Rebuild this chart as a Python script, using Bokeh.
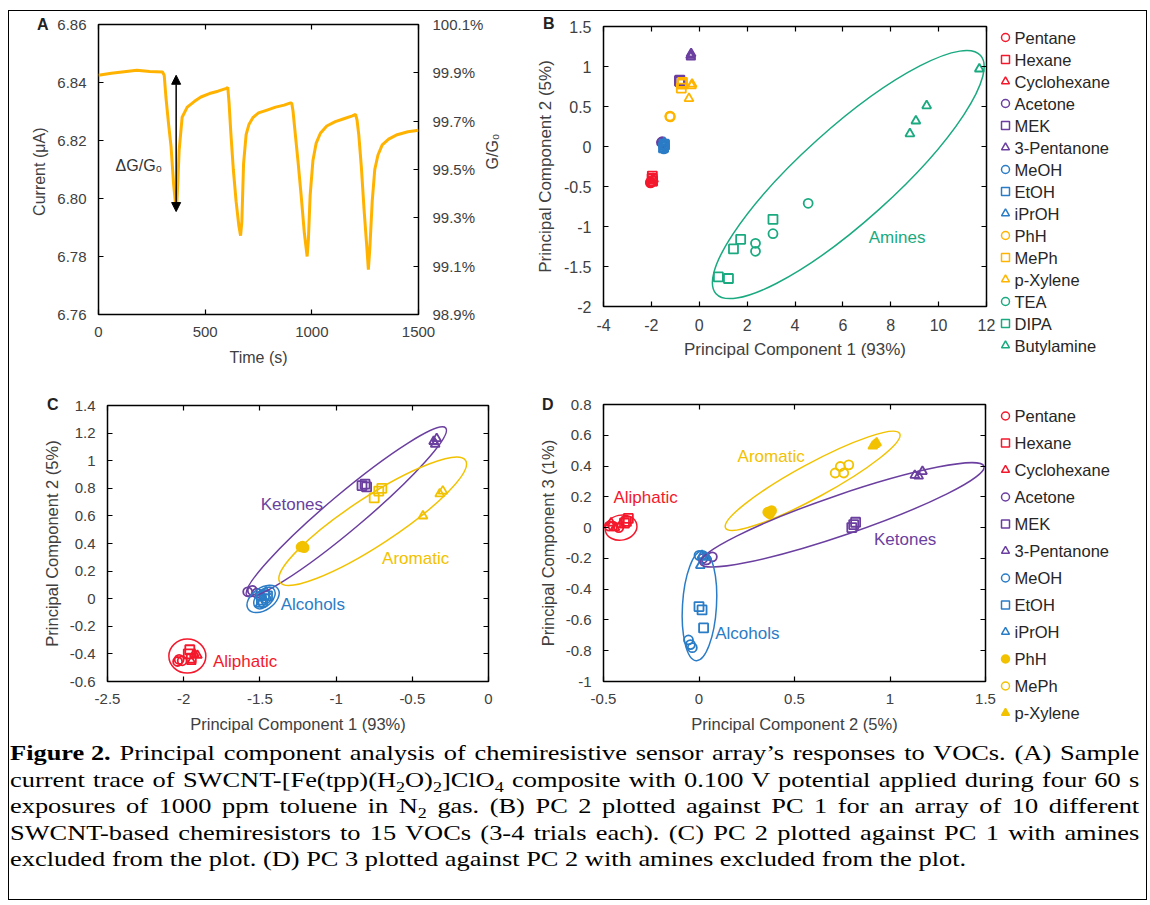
import math
from bokeh.plotting import figure
from bokeh.models import (Range1d, LinearAxis, FixedTicker, NumeralTickFormatter,
                          PrintfTickFormatter, CustomJSTickFormatter, Label, Arrow,
                          NormalHead, Div, FactorRange, ColumnDataSource)
from bokeh.layouts import row, column
from bokeh.embed import file_html
from bokeh.resources import INLINE

# ---------------- Panel A data ----------------
time_s = [0, 60, 120, 180, 240, 300, 308, 316, 328, 340, 352, 362, 366, 372, 378, 392, 416,
          450, 480, 520, 560, 600, 606, 612, 620, 632, 645, 658, 666, 672, 680, 692, 705, 725,
          750, 790, 830, 870, 900, 906, 912, 920, 935, 950, 965, 978, 984, 992, 1005, 1020,
          1040, 1070, 1110, 1150, 1190, 1205, 1212, 1220, 1232, 1245, 1258, 1265, 1272, 1283,
          1295, 1310, 1330, 1360, 1400, 1450, 1500]
current_uA = [6.8425, 6.8432, 6.8437, 6.8442, 6.8438, 6.8436, 6.8425, 6.8350, 6.8260, 6.8180,
              6.8050, 6.7975, 6.7965, 6.8060, 6.8166, 6.8280, 6.8315, 6.8335, 6.8350, 6.8362,
              6.8370, 6.8380, 6.8383, 6.8330, 6.8230, 6.8100, 6.7990, 6.7905, 6.7872, 6.7920,
              6.8120, 6.8220, 6.8255, 6.8280, 6.8295, 6.8305, 6.8315, 6.8322, 6.8330, 6.8328,
              6.8300, 6.8240, 6.8130, 6.8010, 6.7880, 6.7800, 6.7860, 6.8010, 6.8130, 6.8190,
              6.8225, 6.8250, 6.8265, 6.8275, 6.8285, 6.8290, 6.8270, 6.8220, 6.8110, 6.7960,
              6.7830, 6.7755, 6.7830, 6.7990, 6.8100, 6.8150, 6.8185, 6.8205, 6.8220, 6.8230,
              6.8235]
a_time_ticks = [0, 500, 1000, 1500]
a_current_ticks = [6.76, 6.78, 6.80, 6.82, 6.84, 6.86]
a_ratio_ticks = [98.9, 99.1, 99.3, 99.5, 99.7, 99.9, 100.1]

# ---------------- PCA data ----------------
compounds = ["Pentane", "Hexane", "Cyclohexane", "Acetone", "MEK", "3-Pentanone",
             "MeOH", "EtOH", "iPrOH", "PhH", "MePh", "p-Xylene", "TEA", "DIPA", "Butylamine"]
compound_group = ["Aliphatic"] * 3 + ["Ketones"] * 3 + ["Alcohols"] * 3 + ["Aromatic"] * 3 + ["Amines"] * 3

# PC1 / PC2 scores (panels B and C)
pc1 = [[-2.04, -2.01, -2.03], [-1.96, -1.95, -1.97], [-1.91, -1.95, -1.93],
       [-1.58, -1.55, -1.52], [-0.83, -0.81, -0.80], [-0.36, -0.34, -0.35],
       [-1.50, -1.48, -1.46], [-1.47, -1.49, -1.45], [-1.46, -1.48, -1.50],
       [-1.22, -1.21, -1.23], [-0.75, -0.72, -0.70], [-0.30, -0.43, -0.32],
       [4.55, 3.08, 2.35, 2.35], [3.08, 1.73, 1.43, 0.80, 1.22], [11.7, 9.5, 9.05, 8.8]]
pc2 = [[-0.455, -0.45, -0.44], [-0.37, -0.43, -0.40], [-0.41, -0.455, -0.40],
       [0.05, 0.06, 0.04], [0.82, 0.83, 0.81], [1.14, 1.16, 1.12],
       [0.02, -0.03, 0.00], [0.03, -0.01, 0.02], [0.05, 0.01, -0.04],
       [0.38, 0.37, 0.375], [0.73, 0.78, 0.80], [0.78, 0.60, 0.76],
       [-0.71, -1.09, -1.21, -1.31], [-0.91, -1.16, -1.28, -1.63, -1.65], [0.97, 0.51, 0.32, 0.16]]

# PC2 / PC3 scores (panel D, amines excluded)
d_compounds = compounds[:12]
d_pc2 = [[-0.47, -0.45, -0.42], [-0.37, -0.38, -0.39], [-0.46, -0.41, -0.44],
         [0.07, 0.04, 0.02], [0.81, 0.82, 0.80], [1.13, 1.17, 1.15],
         [-0.055, -0.045, -0.035, 0.0], [0.024, 0.0, 0.016], [0.007, 0.016, 0.033],
         [0.36, 0.37, 0.38], [0.713, 0.74, 0.784, 0.758], [0.92, 0.93, 0.91]]
d_pc3 = [[0.01, 0.01, 0.0], [0.06, 0.04, 0.03], [0.03, 0.02, 0.0],
         [-0.19, -0.21, -0.20], [0.02, 0.035, 0.0], [0.34, 0.365, 0.335],
         [-0.73, -0.76, -0.78, -0.18], [-0.652, -0.513, -0.535], [-0.246, -0.181, -0.192],
         [0.10, 0.09, 0.11], [0.355, 0.397, 0.408, 0.355], [0.54, 0.55, 0.53]]

b_x_ticks = [-4, -2, 0, 2, 4, 6, 8, 10, 12]
b_y_ticks = [-2, -1.5, -1, -0.5, 0, 0.5, 1, 1.5]
c_x_ticks = [-2.5, -2, -1.5, -1, -0.5, 0]
c_y_ticks = [-0.6, -0.4, -0.2, 0, 0.2, 0.4, 0.6, 0.8, 1, 1.2, 1.4]
d_x_ticks = [-0.5, 0, 0.5, 1, 1.5]
d_y_ticks = [-1, -0.8, -0.6, -0.4, -0.2, 0, 0.2, 0.4, 0.6, 0.8]

# ---------------- styles ----------------
FONT = "Liberation Sans"
TXT = "#404040"
GROUP_COLOR = {"Aliphatic": "#F4182C", "Ketones": "#6B3FA0", "Alcohols": "#2B7CC6",
               "Aromatic": "#F2C200", "Amines": "#1BAA80"}
B_GROUP_COLOR = dict(GROUP_COLOR, Aromatic="#FFB400")
SHAPES = ["circle", "square", "triangle"]
C_FILLED = [False] * 9 + [True, False, False]
D_SHAPES = ["circle", "square", "triangle"] * 3 + ["circle", "circle", "triangle"]
D_FILLED = [False] * 9 + [True, False, True]

fmt = CustomJSTickFormatter(code="return String(Math.round(tick*100)/100)")


def style_axis(ax, size, title_size="16px"):
    ax.axis_line_color = None
    ax.major_tick_in = 5
    ax.major_tick_out = 0
    ax.minor_tick_line_color = None
    ax.major_tick_line_color = "black"
    ax.major_tick_line_width = 1.2
    ax.major_label_text_font = FONT
    ax.major_label_text_font_size = size
    ax.major_label_text_color = TXT
    ax.axis_label_text_font = FONT
    ax.axis_label_text_font_size = title_size
    ax.axis_label_text_font_style = "normal"
    ax.axis_label_text_color = TXT
    ax.major_label_standoff = 12
    ax.axis_label_standoff = 6


def mirror(p, xticks, yticks, right=True):
    top = LinearAxis(ticker=FixedTicker(ticks=xticks))
    style_axis(top, "0px")
    top.major_label_standoff = 0
    p.add_layout(top, "above")
    if right:
        r = LinearAxis(ticker=FixedTicker(ticks=yticks))
        style_axis(r, "0px")
        r.major_label_standoff = 0
        p.add_layout(r, "right")


def base_fig(w, h, l, r, t, b, xr, yr):
    p = figure(width=w, height=h, min_border_left=l, min_border_right=r,
               min_border_top=t, min_border_bottom=b, x_range=xr, y_range=yr,
               output_backend="svg", toolbar_location=None, tools="")
    p.grid.visible = False
    p.outline_line_color = "black"
    p.outline_line_width = 1.5
    p.background_fill_color = "white"
    p.border_fill_color = "white"
    return p


def group_label(p, x, y, t, color):
    p.add_layout(Label(x=x, y=y, text=t, text_font=FONT, text_font_size="17px",
                       text_align="left", text_baseline="middle", text_color=color))


def ring(p, x, y, w, h, ang, color):
    p.ellipse(x=[x], y=[y], width=[w], height=[h], angle=[ang], width_units="screen",
              height_units="screen", fill_color=None, line_color=color, line_width=1.5)


def legend_fig(names, shapes, colors, fills, w, h, t, b):
    n = len(names)
    p = figure(width=w, height=h, min_border_left=1, min_border_right=w - 13,
               min_border_top=t, min_border_bottom=b, x_range=Range1d(0, 1),
               y_range=FactorRange(*reversed(names)), y_axis_location="right",
               output_backend="svg", toolbar_location=None, tools="")
    p.grid.visible = False
    p.outline_line_color = None
    p.xaxis.visible = False
    ax = p.yaxis[0]
    ax.axis_line_color = None
    ax.major_tick_line_color = None
    ax.minor_tick_line_color = None
    ax.major_tick_in = 0
    ax.major_tick_out = 0
    ax.major_label_text_font = FONT
    ax.major_label_text_font_size = "16.5px"
    ax.major_label_text_color = "#262626"
    ax.major_label_standoff = 3
    src = ColumnDataSource(dict(x=[0.5] * n, y=list(names), m=list(shapes), c=list(colors),
                                f=[c if fl else "white" for c, fl in zip(colors, fills)]))
    p.scatter("x", "y", source=src, marker="m", size=8, line_color="c", fill_color="f",
              line_width=1.5)
    return p


# ---------------- Panel A ----------------
pA = base_fig(511, 380, 89, 102, 13, 77, Range1d(0, 1500), Range1d(6.76, 6.86))
pA.line(time_s, current_uA, line_width=3, line_color="#FFB300")
pA.xaxis.ticker = FixedTicker(ticks=a_time_ticks)
pA.yaxis.ticker = FixedTicker(ticks=a_current_ticks)
pA.yaxis.formatter = NumeralTickFormatter(format="0.00")
pA.xaxis.axis_label = "Time (s)"
pA.yaxis.axis_label = "Current  (\u03bcA)"
style_axis(pA.xaxis[0], "15px")
style_axis(pA.yaxis[0], "15px")
pA.xaxis[0].axis_label_standoff = 9
pA.extra_y_ranges = {"ratio": Range1d(98.9, 100.1)}
axr = LinearAxis(y_range_name="ratio", ticker=FixedTicker(ticks=a_ratio_ticks),
                 formatter=PrintfTickFormatter(format="%.1f%%"), axis_label="G/G\u2080")
style_axis(axr, "15px")
axr.major_label_standoff = 14
axr.axis_label_orientation = math.pi / 2
pA.add_layout(axr, "right")
mirror(pA, a_time_ticks, a_current_ticks, right=False)
pA.add_layout(Arrow(start=NormalHead(size=9, fill_color="black", line_color="black"),
                    end=NormalHead(size=9, fill_color="black", line_color="black"),
                    x_start=364, y_start=6.8425, x_end=364, y_end=6.7955,
                    line_width=1.5, line_color="black"))
pA.add_layout(Label(x=80, y=6.8115, text="\u0394G/G\u2080", text_font=FONT,
                    text_font_size="16px", text_baseline="middle", text_color="#333333"))

# ---------------- Panel B ----------------
pB = base_fig(478, 380, 83, 12, 15, 85, Range1d(-4, 12), Range1d(-2, 1.5))
for i, name in enumerate(compounds):
    col = B_GROUP_COLOR[compound_group[i]]
    pB.scatter(pc1[i], pc2[i], marker=SHAPES[i % 3], size=9, line_color=col,
               fill_color=None, line_width=1.8)
ring(pB, 6.226, -0.351, 356, 93, 0.733, GROUP_COLOR["Amines"])
group_label(pB, 7.08, -1.14, "Amines", GROUP_COLOR["Amines"])
pB.xaxis.ticker = FixedTicker(ticks=b_x_ticks)
pB.yaxis.ticker = FixedTicker(ticks=b_y_ticks)
pB.xaxis.formatter = fmt
pB.yaxis.formatter = fmt
pB.xaxis.axis_label = "Principal Component 1 (93%)"
pB.yaxis.axis_label = "Principal Component 2 (5%)"
style_axis(pB.xaxis[0], "16px", "17px")
style_axis(pB.yaxis[0], "16px", "17px")
mirror(pB, b_x_ticks, b_y_ticks)
legB = legend_fig(compounds, [SHAPES[i % 3] for i in range(15)],
                  [B_GROUP_COLOR[g] for g in compound_group], [False] * 15, 148, 380, 15, 35)

# ---------------- Panel C ----------------
pC = base_fig(491, 344, 98, 12, 14, 50, Range1d(-2.5, 0), Range1d(-0.6, 1.4))
for i in range(12):
    col = GROUP_COLOR[compound_group[i]]
    pC.scatter(pc1[i], pc2[i], marker=SHAPES[i % 3], size=9, line_color=col,
               fill_color=col if C_FILLED[i] else None, line_width=1.8)
ring(pC, -0.933, 0.630, 260, 36, 0.70, GROUP_COLOR["Ketones"])
ring(pC, -0.760, 0.561, 222, 48, 0.58, GROUP_COLOR["Aromatic"])
ring(pC, -1.479, -0.002, 36, 22, 0.6, GROUP_COLOR["Alcohols"])
ring(pC, -1.470, 0.005, 26, 16, 0.8, GROUP_COLOR["Alcohols"])
ring(pC, -1.976, -0.416, 37, 34, 0.0, GROUP_COLOR["Aliphatic"])
group_label(pC, -1.495, 0.686, "Ketones", GROUP_COLOR["Ketones"])
group_label(pC, -0.698, 0.293, "Aromatic", GROUP_COLOR["Aromatic"])
group_label(pC, -1.364, -0.041, "Alcohols", GROUP_COLOR["Alcohols"])
group_label(pC, -1.808, -0.457, "Aliphatic", GROUP_COLOR["Aliphatic"])
pC.xaxis.ticker = FixedTicker(ticks=c_x_ticks)
pC.yaxis.ticker = FixedTicker(ticks=c_y_ticks)
pC.xaxis.formatter = fmt
pC.yaxis.formatter = fmt
pC.xaxis.axis_label = "Principal Component 1 (93%)"
pC.yaxis.axis_label = "Principal Component 2 (5%)"
style_axis(pC.xaxis[0], "15px", "16.5px")
style_axis(pC.yaxis[0], "15px", "16.5px")
pC.xaxis[0].axis_label_standoff = 8
mirror(pC, c_x_ticks, c_y_ticks)

# ---------------- Panel D ----------------
pD = base_fig(498, 344, 103, 13, 13, 51, Range1d(-0.5, 1.5), Range1d(-1, 0.8))
for i, name in enumerate(d_compounds):
    col = GROUP_COLOR[compound_group[i]]
    pD.scatter(d_pc2[i], d_pc3[i], marker=D_SHAPES[i], size=9, line_color=col,
               fill_color=col if D_FILLED[i] else None, line_width=1.8)
ring(pD, -0.408, 0.0, 32, 25, 0.2, GROUP_COLOR["Aliphatic"])
ring(pD, 0.595, 0.304, 198, 34, 0.497, GROUP_COLOR["Aromatic"])
ring(pD, 0.749, 0.083, 300, 40, 0.33, GROUP_COLOR["Ketones"])
ring(pD, 0.0025, -0.508, 34, 110, -0.06, GROUP_COLOR["Alcohols"])
group_label(pD, -0.448, 0.194, "Aliphatic", GROUP_COLOR["Aliphatic"])
group_label(pD, 0.202, 0.461, "Aromatic", GROUP_COLOR["Aromatic"])
group_label(pD, 0.916, -0.08, "Ketones", GROUP_COLOR["Ketones"])
group_label(pD, 0.085, -0.691, "Alcohols", GROUP_COLOR["Alcohols"])
pD.xaxis.ticker = FixedTicker(ticks=d_x_ticks)
pD.yaxis.ticker = FixedTicker(ticks=d_y_ticks)
pD.xaxis.formatter = fmt
pD.yaxis.formatter = fmt
pD.xaxis.axis_label = "Principal Component 2 (5%)"
pD.yaxis.axis_label = "Principal Component 3 (1%)"
style_axis(pD.xaxis[0], "15px", "16.5px")
style_axis(pD.yaxis[0], "15px", "16.5px")
pD.xaxis[0].axis_label_standoff = 8
mirror(pD, d_x_ticks, d_y_ticks)
legD = legend_fig(d_compounds, D_SHAPES, [GROUP_COLOR[g] for g in compound_group[:12]],
                  D_FILLED, 148, 344, 11, 9)

# ---------------- Caption + panel letters ----------------
caption_lines = [
    '<b style="display:inline-block">Figure 2.</b> Principal component analysis of chemiresistive sensor array\u2019s responses to VOCs. (A) Sample',
    "current trace of SWCNT-[Fe(tpp)(H<sub>2</sub>O)<sub>2</sub>]ClO<sub>4</sub> composite with 0.100 V potential applied during four 60 s",
    "exposures of 1000 ppm toluene in N<sub>2</sub> gas. (B) PC 2 plotted against PC 1 for an array of 10 different",
    "SWCNT-based chemiresistors to 15 VOCs (3-4 trials each). (C) PC 2 plotted against PC 1 with amines",
    "excluded from the plot. (D) PC 3 plotted against PC 2 with amines excluded from the plot.",
]
panel_letters = [("A", 28, -719), ("B", 534, -720), ("C", 38, -339), ("D", 533, -339)]
html = []
for k, ln in enumerate(caption_lines):
    last = "justify" if k < len(caption_lines) - 1 else "left"
    ln = ln.replace("<sub>", '<sub style="font-size:15px;line-height:0;">')
    html.append('<div style="text-align:justify;text-align-last:%s;">%s</div>' % (last, ln))
letters = []
for t, lx, ty in panel_letters:
    letters.append('<span style="position:absolute;left:%dpx;top:%dpx;z-index:20;'
                   'font-family:\'Liberation Sans\',sans-serif;font-weight:bold;font-size:16px;'
                   'line-height:18px;color:#222;">%s</span>' % (lx, ty, t))
caption_html = ('<div style="position:relative;width:1137px;">'
                '<div style="font-family:\'Liberation Serif\',serif;font-size:22px;'
                'line-height:26.5px;color:#000;padding-top:5px;margin-left:1px;width:941px;'
                'transform:scaleX(1.2);transform-origin:0 0;">' + "".join(html) + '</div>'
                + "".join(letters) + '</div>')
caption = Div(text=caption_html, width=1137, height=164, margin=0,
              styles={"overflow": "visible", "z-index": "10"})

layout = column(row(pA, row(pB, column(legB))), row(pC, row(pD, column(legD))), caption,
                styles={"border": "1px solid black"}, margin=(10, 0, 0, 8))

open("out.html", "w").write(file_html(layout, INLINE))
